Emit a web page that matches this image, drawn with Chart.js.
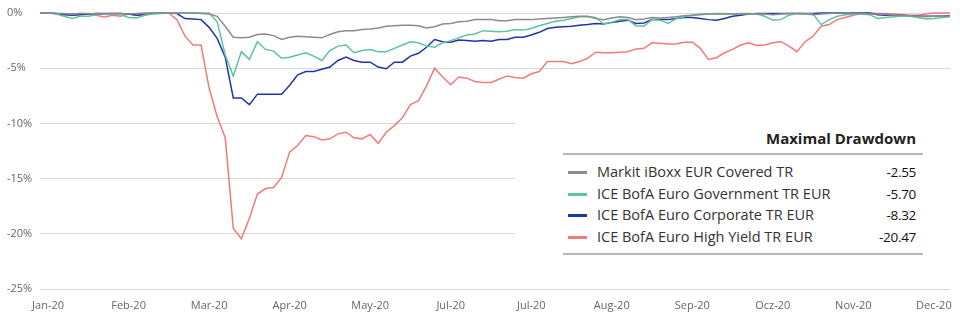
<!DOCTYPE html>
<html>
<head>
<meta charset="utf-8">
<script src="https://cdn.jsdelivr.net/npm/chart.js@4.4.0/dist/chart.umd.min.js"></script>
<style>
  html, body { margin: 0; padding: 0; background: #fff; }
  #wrap { position: relative; width: 960px; height: 326px; font-family: 'Open Sans', sans-serif; }
  #legend { position: absolute; left: 515px; top: 116px; width: 445px; height: 146px; background: #fff; }
  #legend .title { position: absolute; right: 44px; top: 12px; font-size: 15px; line-height: 20px; font-weight: 700; color: #222; }
  #legend .rule { position: absolute; left: 48px; width: 360px; border-top: 2px solid #b8b8b8; }
  #legend .row { position: absolute; left: 0; right: 0; height: 22px; line-height: 22px; font-size: 14.5px; color: #333; }
  #legend .sw { position: absolute; left: 53px; top: 10px; width: 19px; height: 3px; }
  #legend .name { position: absolute; left: 82px; }
  #legend .val { position: absolute; right: 44px; color: #111; font-size: 13.5px; letter-spacing: -0.3px; }
</style>
</head>
<body>
<div id="wrap">
  <canvas id="chart" width="960" height="326"></canvas>
  <div id="legend"></div>
</div>
<script>
const tickLabels = ['Jan-20', 'Feb-20', 'Mar-20', 'Apr-20', 'May-20', 'Jul-20', 'Jul-20', 'Aug-20', 'Sep-20', 'Ocz-20', 'Nov-20', 'Dec-20'];

const seriesNames = ['Markit iBoxx EUR Covered TR', 'ICE BofA Euro Government TR EUR', 'ICE BofA Euro Corporate TR EUR', 'ICE BofA Euro High Yield TR EUR'];
const seriesColors = ['#8c8c8c', '#5cc4a2', '#1f34a6', '#f47a7a'];
const maxDrawdown = ['-2.55', '-5.70', '-8.32', '-20.47'];

const covered = [
  0, 0, -0.05, -0.05, -0.1, -0.05, -0.05, -0.1, -0.1, -0.05,
  -0.05, -0.1, -0.05, 0, 0, 0, 0, 0, 0, 0,
  -0.05, -0.1, -0.3, -1.2, -2.2, -2.25, -2.2, -1.95, -1.9, -2.05,
  -2.4, -2.2, -2.1, -2.15, -2.2, -2.25, -1.95, -1.7, -1.6, -1.6,
  -1.5, -1.45, -1.35, -1.2, -1.15, -1.1, -1.1, -1.15, -1.35, -1.25,
  -1.0, -0.95, -0.8, -0.75, -0.6, -0.6, -0.6, -0.7, -0.7, -0.6,
  -0.6, -0.6, -0.55, -0.5, -0.45, -0.4, -0.35, -0.3, -0.3, -0.5,
  -0.6, -0.45, -0.35, -0.4, -0.6, -0.55, -0.4, -0.45, -0.4, -0.35,
  -0.25, -0.2, -0.15, -0.1, -0.1, -0.1, -0.1, -0.1, -0.1, -0.1,
  -0.1, -0.15, -0.1, -0.05, -0.05, -0.1, -0.15, -0.1, -0.05, 0,
  0, -0.05, -0.05, -0.1, -0.1, -0.1, -0.15, -0.2, -0.25, -0.3,
  -0.35, -0.3, -0.3, -0.3
];

const government = [
  0, 0, -0.1, -0.3, -0.5, -0.3, -0.3, -0.15, -0.1, -0.1,
  -0.15, -0.4, -0.45, -0.2, -0.1, -0.05, 0, 0, 0, 0,
  0, 0, -0.8, -3.8, -5.7, -3.5, -4.2, -2.6, -3.3, -3.45,
  -4.1, -4.0, -3.8, -3.6, -3.9, -4.3, -3.4, -3.0, -2.9, -3.6,
  -3.4, -3.3, -3.5, -3.5, -3.2, -2.9, -2.6, -2.7, -3.0, -3.1,
  -2.7, -2.5, -2.25, -2.0, -1.9, -1.6, -1.65, -1.7, -1.65, -1.5,
  -1.55, -1.4, -1.15, -0.95, -0.75, -0.65, -0.5, -0.35, -0.35, -0.4,
  -1.0, -0.85, -0.6, -0.6, -1.15, -1.2, -0.6, -0.65, -0.95, -0.5,
  -0.35, -0.2, -0.1, -0.1, -0.05, -0.05, -0.1, -0.05, -0.05, -0.1,
  -0.3, -0.65, -0.6, -0.2, -0.05, -0.05, -0.1, -1.05, -0.6, -0.3,
  -0.15, -0.1, -0.1, -0.15, -0.5, -0.4, -0.35, -0.3, -0.3, -0.4,
  -0.55, -0.5, -0.4, -0.35
];

const corporate = [
  0, 0, -0.05, -0.15, -0.2, -0.15, -0.1, -0.05, -0.05, -0.05,
  -0.05, -0.1, -0.2, -0.15, -0.05, 0, 0, -0.05, -0.5, -0.55,
  -0.6, -1.3, -2.3, -4.0, -7.7, -7.7, -8.3, -7.35, -7.35, -7.35,
  -7.35, -6.55, -5.6, -5.3, -5.3, -5.1, -4.9, -4.3, -4.0, -4.3,
  -4.45, -4.45, -4.9, -5.05, -4.45, -4.45, -3.9, -3.65, -3.1, -2.4,
  -2.6, -2.65, -2.45, -2.5, -2.55, -2.5, -2.55, -2.4, -2.4, -2.2,
  -2.2, -2.0, -1.75, -1.4, -1.3, -1.25, -1.2, -1.1, -1.05, -0.95,
  -1.0, -0.85, -0.75, -0.65, -0.95, -0.9, -0.6, -0.6, -0.6, -0.5,
  -0.4, -0.4, -0.5, -0.6, -0.65, -0.5, -0.3, -0.2, -0.1, -0.05,
  -0.05, -0.05, -0.05, -0.05, -0.05, -0.05, -0.05, 0, 0, 0,
  0, 0, 0, 0, -0.15, -0.2, -0.15, -0.2, -0.25, -0.3,
  -0.3, -0.3, -0.3, -0.25
];

const highYield = [
  0, 0, -0.05, -0.1, -0.1, -0.05, -0.1, -0.2, -0.35, -0.2,
  -0.3, -0.1, -0.2, -0.05, 0, 0, 0, -0.6, -2.1, -2.9,
  -2.9, -6.8, -9.4, -11.3, -19.5, -20.45, -18.6, -16.4, -15.9, -15.8,
  -14.9, -12.6, -12.0, -11.1, -11.2, -11.5, -11.4, -10.95, -10.8, -11.3,
  -11.4, -11.0, -11.8, -10.8, -10.2, -9.5, -8.3, -7.95, -6.6, -5.0,
  -5.8, -6.5, -5.8, -5.9, -6.2, -6.3, -6.3, -6.0, -5.7, -5.85,
  -5.9, -5.5, -5.3, -4.4, -4.4, -4.4, -4.6, -4.4, -4.1, -3.55,
  -3.6, -3.6, -3.55, -3.5, -3.25, -3.2, -2.7, -2.75, -2.8, -2.8,
  -2.65, -2.65, -3.2, -4.2, -4.05, -3.6, -3.3, -2.9, -2.7, -2.95,
  -2.9, -2.7, -2.6, -3.0, -3.5, -2.6, -2.1, -1.2, -1.05, -0.6,
  -0.4, -0.2, -0.05, 0, -0.05, -0.05, -0.1, -0.15, -0.2, -0.2,
  -0.1, 0, 0, 0
];

const seriesValues = [covered, government, corporate, highYield];

// one category per point, month label on every 10th point
const categories = covered.map((_, i) => (i % 10 === 1 ? tickLabels[(i - 1) / 10] || '' : ''));

Chart.defaults.font.family = "'Open Sans', sans-serif";

new Chart(document.getElementById('chart'), {
  type: 'line',
  data: {
    labels: categories,
    datasets: seriesValues.map((data, k) => ({
      label: seriesNames[k],
      data,
      borderColor: seriesColors[k],
      borderWidth: 1.5,
      pointRadius: 0,
      tension: 0,
      clip: false,
    })),
  },
  options: {
    responsive: false,
    animation: false,
    layout: { padding: { left: 7, right: 4, top: 13, bottom: 11 } },
    plugins: { legend: { display: false }, tooltip: { enabled: false } },
    scales: {
      x: {
        grid: { display: false, drawTicks: false },
        border: { display: false },
        ticks: { autoSkip: false, maxRotation: 0, padding: 10, color: '#666', font: { size: 11 } },
        afterFit: (scale) => { scale.height = 26; },
      },
      y: {
        min: -25,
        max: 0,
        grid: { color: '#d9d9d9', drawTicks: false },
        border: { display: false },
        ticks: {
          stepSize: 5,
          crossAlign: 'far',
          color: '#666',
          font: { size: 11 },
          callback: (v) => v + '%',
        },
        afterFit: (scale) => { scale.width = 33; },
      },
    },
  },
});

// drawdown table over the lower right of the plot
const legend = document.getElementById('legend');
let html = '<div class="title">Maximal Drawdown</div><div class="rule" style="top:37px"></div>';
seriesNames.forEach((name, k) => {
  const top = 45 + k * 21.5;
  html += `<div class="row" style="top:${top}px"><span class="sw" style="background:${seriesColors[k]}"></span>` +
    `<span class="name">${name}</span><span class="val">${maxDrawdown[k]}</span></div>`;
});
html += '<div class="rule" style="top:137px"></div>';
legend.innerHTML = html;
</script>
</body>
</html>
